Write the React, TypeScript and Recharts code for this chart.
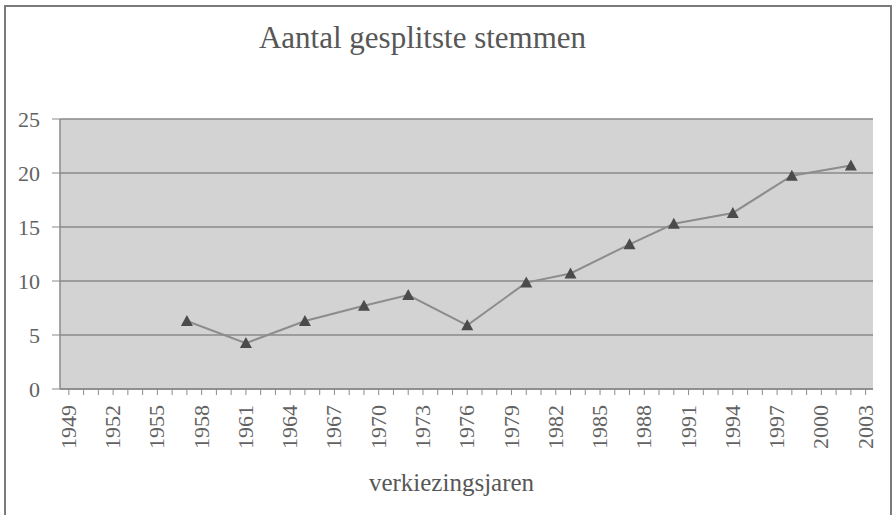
import { LineChart, Line, XAxis, YAxis, CartesianGrid } from "recharts";

// verkiezingsjaren (Bundestag elections) and share of split votes
const years = [1957, 1961, 1965, 1969, 1972, 1976, 1980, 1983, 1987, 1990, 1994, 1998, 2002];
const splitVotes = [6.3, 4.25, 6.3, 7.7, 8.7, 5.9, 9.85, 10.7, 13.4, 15.3, 16.3, 19.75, 20.7];

const labeledYears = [
  1949, 1952, 1955, 1958, 1961, 1964, 1967, 1970, 1973, 1976, 1979, 1982, 1985, 1988, 1991,
  1994, 1997, 2000, 2003,
];
const yTicks = [0, 5, 10, 15, 20, 25];

const minorYears = Array.from({ length: 2003 - 1949 + 1 }, (_, i) => 1949 + i);

const data = years.map((y, i) => ({ year: y, value: splitVotes[i] }));

const FONT = '"Liberation Serif", "DejaVu Serif", serif';
const TEXT = "#626262";

const Triangle = (props: any) => {
  const { cx, cy } = props;
  if (cx == null || cy == null) return null;
  return (
    <polygon
      points={`${cx},${cy - 6} ${cx - 6},${cy + 5} ${cx + 6},${cy + 5}`}
      fill="#4b4b4b"
    />
  );
};

const YearTick = (props: any) => {
  const { x, y, payload } = props;
  if (!labeledYears.includes(payload.value)) return null;
  return (
    <text
      transform={`translate(${x + 7},${y + 8}) rotate(-90)`}
      textAnchor="end"
      fontFamily={FONT}
      fontSize={22}
      fill={TEXT}
    >
      {payload.value}
    </text>
  );
};

export default function App() {
  return (
    <div style={{ position: "absolute", left: 0, top: 0, width: 893, height: 515, background: "#fff", overflow: "hidden" }}>
      <div
        style={{
          position: "absolute",
          left: 4,
          top: 5,
          width: 884,
          height: 520,
          borderLeft: "2px solid #7a7a7a",
          borderTop: "2px solid #7a7a7a",
          borderRight: "2px solid #7a7a7a",
        }}
      />
      <div
        style={{
          position: "absolute",
          left: 0,
          width: 845,
          top: 20,
          textAlign: "center",
          fontFamily: FONT,
          fontSize: 31,
          color: "#575757",
        }}
      >
        Aantal gesplitste stemmen
      </div>
      <div
        style={{
          position: "absolute",
          left: 0,
          width: 903,
          top: 469,
          textAlign: "center",
          fontFamily: FONT,
          fontSize: 25,
          color: "#575757",
        }}
      >
        verkiezingsjaren
      </div>
      <div style={{ position: "absolute", left: 0, top: 0 }}>
        <LineChart
          width={893}
          height={515}
          data={data}
          margin={{ top: 119, right: 20, bottom: 66, left: 20 }}
        >
          <CartesianGrid
            vertical={false}
            horizontal
            fill="#d3d3d3"
            stroke="#8a8a8a"
            strokeWidth={1.5}
          />
          <XAxis
            dataKey="year"
            type="number"
            domain={[1948.4, 2003.5]}
            ticks={minorYears}
            interval={0}
            tick={<YearTick />}
            tickSize={6}
            axisLine={{ stroke: "#8a8a8a", strokeWidth: 1.5 }}
            tickLine={{ stroke: "#8a8a8a" }}
            height={60}
          />
          <YAxis
            type="number"
            domain={[0, 25]}
            ticks={yTicks}
            width={40}
            tickSize={8}
            tickMargin={12}
            axisLine={{ stroke: "#8a8a8a", strokeWidth: 1.5 }}
            tickLine={{ stroke: "#8a8a8a" }}
            tick={{ fontFamily: FONT, fontSize: 22, fill: TEXT }}
          />
          <Line
            dataKey="value"
            type="linear"
            stroke="#8c8c8c"
            strokeWidth={2}
            dot={<Triangle />}
            activeDot={false}
            isAnimationActive={false}
          />
        </LineChart>
      </div>
    </div>
  );
}
